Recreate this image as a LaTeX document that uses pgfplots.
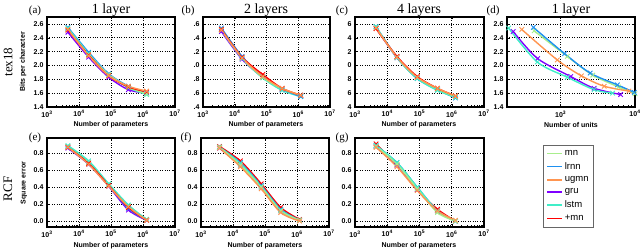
\documentclass[border=0pt]{standalone}
\usepackage{fontspec}
\setmainfont{Liberation Serif}
\setsansfont{Liberation Sans}
\usepackage{pgfplots}
\pgfplotsset{compat=1.18}
\definecolor{cmn}{RGB}{168,238,140}
\definecolor{clrnn}{RGB}{30,144,240}
\definecolor{cugmn}{RGB}{255,149,80}
\definecolor{cgru}{RGB}{127,0,255}
\definecolor{clstm}{RGB}{64,238,200}
\definecolor{cpmn}{RGB}{255,0,0}
\pgfplotsset{
  mybase/.style={scale only axis,
    grid=major, major grid style={black, dotted, line width=0.6pt},
    axis line style={line width=1.1pt}, tick style={black, line width=0.5pt},
    major tick length=2.5pt, minor tick length=1.5pt, tick align=inside,
    ticklabel style={font=\sffamily\bfseries\fontsize{7}{7}\selectfont}},
  mypar/.style={mybase, xmin=1e3, xmax=1e7, xtick={1e3,1e4,1e5,1e6,1e7},
    xticklabels={10\textsuperscript{3},10\textsuperscript{4},10\textsuperscript{5},10\textsuperscript{6},10\textsuperscript{7}}},
  mytop/.style={ymin=1.4, ymax=2.7, ytick={1.4,1.6,1.8,2.0,2.2,2.4,2.6}, height=90pt},
  mybot/.style={ymin=-0.07, ymax=0.98, ytick={0,0.2,0.4,0.6,0.8}, yticklabels={0.0,0.2,0.4,0.6,0.8}, height=89pt},
  S/.style={draw=#1, solid, line width=1.4pt, mark=x, mark size=3.2pt, smooth, mark options={draw=#1, solid, line width=0.9pt}},
}
\newcommand{\ttl}[3]{\node[font=\fontsize{14}{14}\selectfont, anchor=base] at (#1pt,#2pt) {#3};}
\newcommand{\plab}[3]{\node[font=\fontsize{11}{11}\selectfont, anchor=base] at (#1pt,#2pt) {#3};}
\newcommand{\xlab}[3]{\node[font=\sffamily\bfseries\fontsize{7}{7}\selectfont] at (#1pt,#2pt) {#3};}
\begin{document}
\begin{tikzpicture}[x=1pt,y=1pt]
\useasboundingbox (0,0) rectangle (640,251);
% ---------- (a)
\begin{semilogxaxis}[mypar, mytop, at={(47pt,144pt)}, anchor=south west, width=128pt,
  yticklabels={1.4,1.6,1.8,2.0,2.2,2.4,2.6}]
\addplot[S=cgru] coordinates {(4500,2.48) (2e4,2.12) (8.5e4,1.83) (3.5e5,1.65) (1.3e6,1.60)};
\addplot[S=clrnn] coordinates {(4500,2.55) (2e4,2.19) (8.5e4,1.88) (3.5e5,1.70) (1.3e6,1.60)};
\addplot[S=clstm] coordinates {(4500,2.54) (2e4,2.17) (8.5e4,1.86) (3.5e5,1.68) (1.3e6,1.58)};
\addplot[S=cmn] coordinates {(4500,2.52) (2e4,2.16) (8.5e4,1.87) (3.5e5,1.69) (1.3e6,1.59)};
\addplot[S=cpmn] coordinates {(4500,2.51) (2e4,2.15) (8.5e4,1.85) (3.5e5,1.69) (1.3e6,1.62)};
\addplot[S=cugmn] coordinates {(4500,2.52) (2e4,2.14) (8.5e4,1.85) (3.5e5,1.70) (1.3e6,1.63)};
\end{semilogxaxis}
% ---------- (b)
\begin{semilogxaxis}[mypar, mytop, at={(203pt,144pt)}, anchor=south west, width=127pt,
  yticklabels={.4,.6,.8,.0,.2,.4,.6}]
\addplot[S=cgru] coordinates {(3800,2.49) (1.7e4,2.09) (7.6e4,1.83) (3.1e5,1.65) (1.2e6,1.57)};
\addplot[S=clstm] coordinates {(3800,2.51) (1.7e4,2.10) (7.6e4,1.82) (3.1e5,1.64) (1.2e6,1.55)};
\addplot[S=clrnn] coordinates {(3800,2.54) (1.7e4,2.13) (7.6e4,1.84) (3.1e5,1.66) (1.2e6,1.55)};
\addplot[S=cmn] coordinates {(3800,2.52) (1.7e4,2.11) (7.6e4,1.83) (3.1e5,1.66) (1.2e6,1.57)};
\addplot[S=cpmn] coordinates {(3800,2.52) (1.7e4,2.12) (7.6e4,1.87) (3.1e5,1.67) (1.2e6,1.57)};
\addplot[S=cugmn] coordinates {(3800,2.51) (1.7e4,2.11) (7.6e4,1.84) (3.1e5,1.67) (1.2e6,1.57)};
\end{semilogxaxis}
% ---------- (c)
\begin{semilogxaxis}[mypar, mytop, at={(355pt,144pt)}, anchor=south west, width=129pt,
  yticklabels={4,6,8,0,2,4,6}]
\addplot[S=cgru] coordinates {(4500,2.54) (2e4,2.11) (8.5e4,1.82) (3.6e5,1.66) (1.3e6,1.55)};
\addplot[S=clrnn] coordinates {(4500,2.56) (2e4,2.12) (8.5e4,1.81) (3.6e5,1.65) (1.3e6,1.53)};
\addplot[S=clstm] coordinates {(4500,2.56) (2e4,2.11) (8.5e4,1.81) (3.6e5,1.64) (1.3e6,1.54)};
\addplot[S=cmn] coordinates {(4500,2.54) (2e4,2.12) (8.5e4,1.83) (3.6e5,1.66) (1.3e6,1.55)};
\addplot[S=cpmn] coordinates {(4500,2.53) (2e4,2.13) (8.5e4,1.84) (3.6e5,1.67) (1.3e6,1.56)};
\addplot[S=cugmn] coordinates {(4500,2.54) (2e4,2.12) (8.5e4,1.83) (3.6e5,1.67) (1.3e6,1.56)};
\end{semilogxaxis}
% ---------- (d)
\begin{semilogxaxis}[mybase, mytop, at={(507pt,144pt)}, anchor=south west, width=128pt,
  xmin=190, xmax=1e4, xtick={1e3,1e4},
  xticklabels={10\textsuperscript{3},10\textsuperscript{4}},
  yticklabels={1.4,1.6,1.8,2.0,2.2,2.4,2.6},
  legend style={at={(0.281,-0.422)}, anchor=north west, draw=black!60, line width=0.6pt,
    font=\sffamily\fontsize{9.5}{9.5}\selectfont, row sep=1.6pt, inner xsep=3pt, inner ysep=3pt},
  legend cell align=left,
  legend image code/.code={\draw[#1] (0pt,0pt) -- (15pt,0pt);}]
\addlegendimage{draw=cmn, line width=1.6pt}\addlegendentry{mn}
\addlegendimage{draw=clrnn, line width=1.6pt}\addlegendentry{lrnn}
\addlegendimage{draw=cugmn, line width=1.6pt}\addlegendentry{ugmn}
\addlegendimage{draw=cgru, line width=1.6pt}\addlegendentry{gru}
\addlegendimage{draw=clstm, line width=1.6pt}\addlegendentry{lstm}
\addlegendimage{draw=cpmn, line width=1.6pt}\addlegendentry{+mn}
\addplot[S=cmn, forget plot] coordinates {(440,2.50) (1230,2.13) (2700,1.86) (6000,1.69) (1e4,1.59)};
\addplot[S=clrnn, forget plot] coordinates {(430,2.55) (1130,2.17) (2500,1.89) (5800,1.72) (9800,1.61)};
\addplot[S=cugmn, forget plot] coordinates {(300,2.52) (900,2.08) (1900,1.85) (3850,1.70) (8300,1.63)};
\addplot[S=cgru, forget plot] coordinates {(230,2.49) (490,2.10) (1365,1.84) (2820,1.67) (6400,1.58)};
\addplot[S=clstm, forget plot] coordinates {(200,2.54) (485,2.05) (1230,1.83) (2820,1.65) (5000,1.60)};
\end{semilogxaxis}
% ---------- (e)
\begin{semilogxaxis}[mypar, mybot, at={(47pt,24pt)}, anchor=south west, width=128pt]
\addplot[S=cgru] coordinates {(4500,0.86) (2e4,0.67) (8.5e4,0.41) (3.5e5,0.13) (1.3e6,0.01)};
\addplot[S=clrnn] coordinates {(4500,0.88) (2e4,0.69) (8.5e4,0.42) (3.5e5,0.15) (1.3e6,0.01)};
\addplot[S=cmn] coordinates {(4500,0.88) (2e4,0.69) (8.5e4,0.43) (3.5e5,0.17) (1.3e6,0.02)};
\addplot[S=clstm] coordinates {(4500,0.89) (2e4,0.71) (8.5e4,0.44) (3.5e5,0.19) (1.3e6,0.02)};
\addplot[S=cpmn] coordinates {(4500,0.87) (2e4,0.68) (8.5e4,0.42) (3.5e5,0.16) (1.3e6,0.01)};
\addplot[S=cugmn] coordinates {(4500,0.87) (2e4,0.67) (8.5e4,0.41) (3.5e5,0.17) (1.3e6,0.01)};
\end{semilogxaxis}
% ---------- (f)
\begin{semilogxaxis}[mypar, mybot, at={(201pt,24pt)}, anchor=south west, width=128pt]
\addplot[S=cgru] coordinates {(3800,0.86) (1.7e4,0.66) (7.6e4,0.40) (3.1e5,0.12) (1.2e6,0.01)};
\addplot[S=cpmn] coordinates {(3800,0.88) (1.7e4,0.71) (7.6e4,0.44) (3.1e5,0.16) (1.2e6,0.02)};
\addplot[S=clrnn] coordinates {(3800,0.87) (1.7e4,0.69) (7.6e4,0.42) (3.1e5,0.14) (1.2e6,0.01)};
\addplot[S=clstm] coordinates {(3800,0.87) (1.7e4,0.68) (7.6e4,0.41) (3.1e5,0.13) (1.2e6,0.01)};
\addplot[S=cmn] coordinates {(3800,0.87) (1.7e4,0.66) (7.6e4,0.40) (3.1e5,0.12) (1.2e6,0.01)};
\addplot[S=cugmn] coordinates {(3800,0.86) (1.7e4,0.64) (7.6e4,0.38) (3.1e5,0.10) (1.2e6,0.00)};
\end{semilogxaxis}
% ---------- (g)
\begin{semilogxaxis}[mypar, mybot, at={(355pt,24pt)}, anchor=south west, width=129pt]
\addplot[S=cpmn] coordinates {(4500,0.91) (2e4,0.66) (8.5e4,0.37) (3.6e5,0.14) (1.3e6,0.00)};
\addplot[S=cgru] coordinates {(4500,0.88) (2e4,0.66) (8.5e4,0.37) (3.6e5,0.12) (1.3e6,0.00)};
\addplot[S=clrnn] coordinates {(4500,0.89) (2e4,0.69) (8.5e4,0.40) (3.6e5,0.12) (1.3e6,0.00)};
\addplot[S=clstm] coordinates {(4500,0.89) (2e4,0.69) (8.5e4,0.40) (3.6e5,0.12) (1.3e6,0.00)};
\addplot[S=cmn] coordinates {(4500,0.88) (2e4,0.67) (8.5e4,0.38) (3.6e5,0.10) (1.3e6,0.00)};
\addplot[S=cugmn] coordinates {(4500,0.87) (2e4,0.64) (8.5e4,0.36) (3.6e5,0.12) (1.3e6,0.01)};
\end{semilogxaxis}
% ---------- texts
\ttl{111}{237}{1 layer}
\ttl{266}{237}{2 layers}
\ttl{419}{237}{4 layers}
\ttl{571}{237}{1 layer}
\plab{35}{237}{(a)}
\plab{188}{237}{(b)}
\plab{342}{237}{(c)}
\plab{493}{237}{(d)}
\plab{35}{110}{(e)}
\plab{186}{110}{(f)}
\plab{342}{110}{(g)}
\xlab{111}{126}{Number of parameters}
\xlab{266}{126}{Number of parameters}
\xlab{419}{126}{Number of parameters}
\xlab{571}{126}{Number of units}
\xlab{111}{5}{Number of parameters}
\xlab{265}{5}{Number of parameters}
\xlab{419}{5}{Number of parameters}
\node[font=\sffamily\bfseries\fontsize{7}{7}\selectfont, rotate=90] at (23pt,189pt) {Bits per character};
\node[font=\sffamily\bfseries\fontsize{7}{7}\selectfont, rotate=90] at (24pt,68pt) {Square error};
\node[font=\fontsize{13}{13}\selectfont, rotate=90] at (8pt,189pt) {tex18};
\node[font=\fontsize{13}{13}\selectfont, rotate=90] at (8pt,62pt) {RCF};
\end{tikzpicture}
\end{document}
